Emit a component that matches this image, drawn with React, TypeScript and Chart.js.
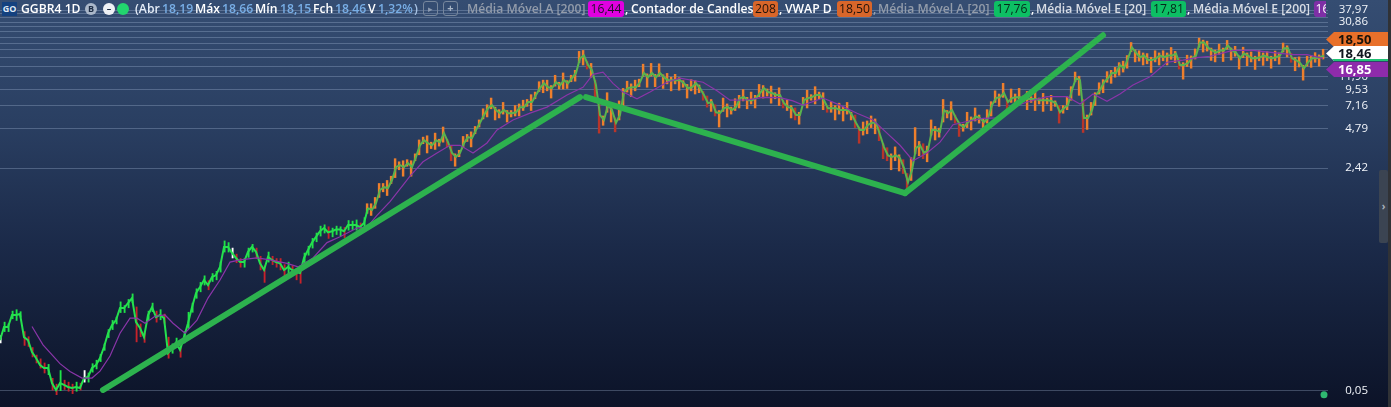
import { useEffect, useRef } from "react";
import { Chart, registerables } from "chart.js";

Chart.register(...registerables);

// daily bars, sampled along the chart
const closes = [
  0.1207, 0.1516, 0.1516, 0.187, 0.187, 0.19, 0.127, 0.1207, 0.0981, 0.0883, 0.0782, 0.0742, 0.0742, 0.0571, 0.0506, 0.0571,
  0.0552, 0.0533, 0.0524, 0.0533, 0.0524, 0.0623, 0.0634, 0.0742, 0.0782, 0.0883, 0.107, 0.136, 0.157, 0.171, 0.211, 0.211,
  0.23, 0.251, 0.165, 0.149, 0.127, 0.187, 0.214, 0.18, 0.187, 0.177, 0.0964, 0.105, 0.1155, 0.1015, 0.127, 0.162,
  0.214, 0.274, 0.304, 0.344, 0.315, 0.362, 0.375, 0.432, 0.612, 0.612, 0.552, 0.505, 0.47, 0.47, 0.562, 0.612,
  0.562, 0.46, 0.41, 0.514, 0.488, 0.47, 0.46, 0.41, 0.432, 0.41, 0.396, 0.389, 0.505, 0.581, 0.66, 0.73,
  0.805, 0.851, 0.79, 0.805, 0.83, 0.83, 0.805, 0.897, 0.897, 0.897, 0.866, 0.93, 1.206, 1.165, 1.315, 1.65,
  1.735, 1.708, 1.965, 2.46, 2.55, 2.46, 2.64, 2.46, 2.94, 3.6, 3.93, 3.73, 3.6, 3.93, 3.8, 4.45,
  3.8, 3.15, 2.94, 3.15, 3.73, 4.15, 4.08, 4.7, 5.33, 6.1, 6.88, 7.25, 6.65, 6.3, 6.65, 6.3,
  6.3, 6.4, 7, 7, 7.65, 7.65, 8.65, 9.75, 10.6, 9.9, 9.75, 10.8, 10.25, 11.2, 10.6, 11.6,
  12.7, 16.4, 17.2, 14.6, 13.3, 10.25, 6.1, 5.6, 7.25, 6.65, 5.33, 6.1, 9.1, 9.75, 9.9, 9.9,
  10.8, 12.7, 11.8, 12.7, 11.8, 12.7, 11.8, 11.2, 11.2, 11.2, 11.2, 10.6, 9.75, 9.9, 10.6, 9.75,
  8.65, 7.5, 7.65, 6.4, 6.3, 6.88, 7, 6.65, 7, 8.19, 8.33, 7.9, 7.9, 8.19, 8.95, 9.75,
  9.1, 8.95, 8.65, 8.65, 7.5, 7, 6.88, 6.1, 6.1, 7.9, 8.19, 8.33, 8.65, 8.65, 7.9, 6.88,
  6.88, 6.88, 6.65, 6.65, 6.65, 6.1, 5.33, 4.7, 4.7, 5.15, 5.33, 5.33, 4.33, 3.49, 3.02, 2.94,
  3.02, 2.88, 2.42, 1.89, 2.33, 3.43, 3.6, 3.15, 3.32, 4.7, 4.7, 4.55, 6.65, 6.3, 6.65, 5.78,
  5.15, 4.95, 5.4, 5.6, 5.95, 5.78, 5.4, 5.78, 7.25, 8.19, 8.33, 8.95, 7.65, 8.19, 8.33, 8.33,
  8.19, 8.05, 8.05, 8.05, 7.9, 7.9, 7.9, 7.75, 7.5, 6.4, 6.88, 7.25, 9.45, 11.6, 11.2, 5.78,
  5.78, 6.65, 8.65, 9.45, 10.8, 11.6, 12.7, 12.7, 14.6, 13.8, 16.4, 19.8, 18.1, 16.7, 17.2, 15.9,
  15.9, 16.4, 17.2, 16.7, 17.2, 17.2, 17.8, 14.6, 14.6, 15.1, 16.4, 17.2, 21.6, 21.6, 19.8, 18.8,
  18.1, 18.8, 18.8, 20.5, 18.8, 18.1, 16.4, 17.8, 17.2, 16.4, 16.4, 16.7, 17.2, 16.7, 16.4, 16.7,
  17.2, 19.5, 19.5, 16.4, 15.9, 15.1, 13.8, 15.3, 16.4, 16.4, 16.7, 17.2,
];
const highs = [
  0.13, 0.165, 0.16, 0.2, 0.205, 0.198, 0.14, 0.128, 0.106, 0.093, 0.087, 0.081, 0.079, 0.062, 0.056, 0.071,
  0.06, 0.058, 0.056, 0.058, 0.057, 0.071, 0.068, 0.08, 0.085, 0.094, 0.113, 0.145, 0.17, 0.18, 0.235, 0.22,
  0.245, 0.27, 0.215, 0.16, 0.14, 0.2, 0.23, 0.2, 0.205, 0.19, 0.127, 0.113, 0.125, 0.115, 0.14, 0.196,
  0.23, 0.295, 0.33, 0.37, 0.34, 0.385, 0.4, 0.47, 0.68, 0.66, 0.6, 0.54, 0.5, 0.5, 0.6, 0.64,
  0.6, 0.52, 0.44, 0.56, 0.52, 0.5, 0.5, 0.45, 0.47, 0.44, 0.42, 0.42, 0.55, 0.62, 0.71, 0.78,
  0.88, 0.9, 0.87, 0.85, 0.88, 0.87, 0.86, 0.97, 0.96, 0.98, 0.93, 1.02, 1.3, 1.3, 1.45, 1.85,
  1.85, 1.95, 2.1, 2.85, 2.7, 2.75, 2.8, 2.75, 3.1, 3.95, 4.15, 4.25, 3.8, 4.45, 4.0, 4.95,
  4.0, 3.6, 3.1, 3.3, 4.2, 4.35, 4.55, 5.0, 5.6, 6.8, 7.3, 8.2, 7.0, 6.7, 7.6, 6.6,
  6.6, 7.2, 7.4, 7.9, 8.0, 8.7, 9.1, 10.9, 11.2, 11.2, 10.2, 12.2, 10.8, 12.7, 11.1, 12.2,
  13.3, 18.5, 18.8, 15.6, 15.0, 11.2, 8.0, 6.0, 9.0, 7.1, 5.8, 7.8, 9.7, 11.0, 10.5, 11.2,
  11.4, 14.8, 12.5, 15.0, 12.4, 14.9, 12.3, 12.6, 11.8, 12.4, 11.7, 11.1, 10.4, 11.3, 11.1, 10.3,
  9.2, 8.5, 8.0, 7.3, 6.6, 8.2, 7.4, 7.0, 8.1, 8.6, 9.5, 8.3, 9.1, 8.6, 10.4, 10.2,
  9.6, 10.1, 9.0, 9.8, 7.9, 7.9, 7.2, 6.9, 6.4, 8.3, 9.4, 8.7, 10.0, 9.1, 9.0, 7.2,
  7.7, 7.2, 7.5, 7.0, 7.6, 6.4, 6.1, 4.95, 5.4, 5.5, 6.0, 5.7, 5.0, 3.7, 3.45, 3.1,
  3.5, 3.05, 2.8, 2.2, 2.9, 4.9, 3.85, 3.7, 3.55, 5.6, 5.0, 4.85, 8.0, 6.6, 7.7, 6.1,
  5.4, 5.2, 6.4, 5.9, 6.9, 6.1, 5.7, 6.7, 7.7, 9.3, 8.8, 10.6, 8.1, 9.6, 8.8, 9.7,
  8.5, 9.2, 8.4, 9.3, 8.2, 8.9, 8.2, 8.6, 7.8, 7.2, 7.2, 8.4, 10.0, 12.9, 12.0, 8.0,
  6.1, 7.6, 9.0, 10.7, 11.3, 13.0, 13.3, 14.0, 15.2, 15.6, 17.2, 21.6, 19.0, 18.7, 18.0, 17.8,
  16.7, 18.7, 18.0, 18.7, 18.0, 19.8, 18.5, 16.4, 15.2, 17.3, 17.1, 19.3, 23.3, 22.5, 22.1, 19.6,
  18.9, 21.0, 19.6, 22.4, 19.6, 20.2, 17.1, 19.9, 18.0, 18.3, 17.0, 18.7, 18.0, 18.4, 17.0, 18.6,
  18.0, 21.4, 20.4, 17.9, 16.6, 16.8, 14.5, 17.0, 17.2, 18.1, 17.4, 19.2,
];
const lows = [
  0.115, 0.14, 0.14, 0.175, 0.17, 0.18, 0.11, 0.108, 0.09, 0.081, 0.074, 0.068, 0.066, 0.0505, 0.0466, 0.05,
  0.051, 0.0495, 0.0475, 0.0495, 0.0505, 0.058, 0.058, 0.069, 0.073, 0.083, 0.101, 0.126, 0.145, 0.16, 0.195, 0.195,
  0.212, 0.232, 0.117, 0.128, 0.116, 0.17, 0.198, 0.165, 0.172, 0.162, 0.088, 0.096, 0.106, 0.0895, 0.115, 0.148,
  0.196, 0.25, 0.28, 0.315, 0.29, 0.335, 0.345, 0.395, 0.56, 0.56, 0.505, 0.465, 0.43, 0.43, 0.51, 0.56,
  0.5, 0.41, 0.33, 0.47, 0.45, 0.43, 0.41, 0.37, 0.39, 0.37, 0.345, 0.325, 0.46, 0.53, 0.6, 0.67,
  0.74, 0.78, 0.71, 0.73, 0.76, 0.74, 0.72, 0.82, 0.83, 0.82, 0.79, 0.85, 1.1, 1.06, 1.2, 1.45,
  1.6, 1.5, 1.85, 2.05, 2.35, 2.1, 2.5, 2.1, 2.75, 3.05, 3.7, 3.15, 3.4, 3.35, 3.55, 3.8,
  3.5, 2.75, 2.5, 2.95, 3.45, 3.85, 3.5, 4.4, 4.95, 5.7, 5.9, 6.8, 5.6, 5.8, 6.2, 5.4,
  5.9, 6.0, 6.0, 6.6, 7.1, 6.6, 8.1, 9.2, 9.0, 9.3, 8.2, 10.1, 9.6, 9.6, 9.7, 10.9,
  11.0, 15.2, 14.6, 13.6, 11.8, 7.6, 4.45, 5.1, 6.4, 5.4, 4.55, 5.6, 7.0, 9.1, 8.4, 9.3,
  10.0, 11.9, 9.9, 12.0, 10.0, 12.0, 9.7, 10.5, 9.3, 10.5, 9.4, 9.9, 8.2, 9.3, 8.8, 9.0,
  7.9, 7.0, 6.5, 6.0, 4.95, 6.5, 5.9, 6.2, 6.6, 6.9, 7.8, 6.8, 7.4, 6.9, 8.4, 8.2,
  8.5, 7.5, 8.1, 7.2, 6.9, 6.6, 5.8, 5.6, 5.2, 7.4, 6.9, 7.9, 7.4, 8.1, 6.7, 6.4,
  6.4, 5.6, 6.2, 5.5, 6.2, 5.6, 4.9, 3.73, 4.3, 4.4, 4.9, 4.4, 3.9, 2.85, 2.75, 2.35,
  2.75, 2.3, 2.2, 1.65, 1.95, 3.1, 3.0, 2.85, 2.7, 4.3, 3.95, 4.15, 5.4, 5.8, 5.6, 5.3,
  4.2, 4.6, 4.9, 4.7, 5.5, 5.3, 4.5, 5.3, 6.0, 7.6, 7.1, 8.3, 6.3, 7.6, 7.1, 7.8,
  7.7, 6.7, 7.6, 6.6, 7.4, 6.5, 7.4, 6.6, 7.1, 5.3, 6.3, 6.7, 7.9, 10.9, 8.6, 4.5,
  4.75, 6.1, 7.2, 8.8, 9.0, 10.8, 10.6, 11.8, 12.2, 12.9, 13.8, 18.4, 15.4, 15.6, 14.6, 14.9,
  12.8, 15.4, 14.6, 15.7, 14.6, 16.1, 15.2, 13.6, 11.4, 14.2, 13.8, 16.2, 19.9, 18.3, 18.6, 15.8,
  15.4, 17.6, 15.5, 19.2, 15.9, 17.0, 13.6, 16.6, 14.4, 15.4, 13.5, 15.7, 14.5, 15.7, 13.8, 15.7,
  14.8, 18.3, 16.8, 15.3, 13.2, 14.1, 11.2, 14.3, 14.0, 15.3, 14.3, 16.2,
];
const dojiBars = [0, 21, 58];

// moving average, read at its turning points
const maBars = [
  8, 10.75, 15, 17.5, 20.5, 23, 25, 27.5, 30, 32.5, 34.25, 36.25, 38.75, 41.25, 43.25, 46.25, 49.25, 52, 55, 57.5, 60, 64.25,
  67.5, 71.75, 74.5, 78.25, 81.75, 85, 89.25, 91.75, 94.25, 97.5, 100.75, 102.5, 105.75, 109.25, 112.5, 115, 118.25, 121.75, 124.25, 128.25,
  132.5, 136.75, 141.75, 145.75, 148.25, 150.75, 153.25, 155.75, 159.25, 162.5, 166.75, 170, 175.75, 179.25, 182.5, 186.75, 190.75, 195, 198.25, 200.75,
  205.75, 210, 214.25, 218.25, 221.75, 225, 228.25, 231.75, 235, 238.25, 241.75, 245.75, 249.25, 252.5, 256.75, 261.75, 266.75, 270, 273.25, 276.75,
  280, 283.25, 287.5, 291.75, 295.75, 299.25, 302.5, 308.25, 313.25, 318.25, 323.25, 326.75, 330.75,
];
const maValues = [
  0.153, 0.111, 0.08, 0.0698, 0.0623, 0.0623, 0.0703, 0.0914, 0.136, 0.177, 0.177, 0.162, 0.183, 0.187, 0.162, 0.136, 0.171, 0.251, 0.344, 0.47, 0.488, 0.505,
  0.488, 0.46, 0.432, 0.505, 0.66, 0.73, 0.851, 0.866, 1.06, 1.35, 1.8, 2.1, 2.7, 3.15, 3.6, 3.6, 3.15, 3.75, 4.7, 5.6,
  6.3, 7, 8.65, 9.9, 12.4, 12.9, 10.6, 9.1, 8.1, 9.1, 10.8, 11.6, 10.8, 9.3, 7.9, 7.95, 8.3, 8.25, 7.8, 7.25,
  8.2, 7.25, 6.3, 5.6, 4.45, 3.6, 2.75, 3.15, 3.8, 5.15, 5.45, 5.75, 5.8, 6.88, 7.65, 8.4, 8.4, 7.4, 8.8, 7.75,
  8.8, 10.3, 11.9, 15.3, 15.9, 16.6, 17, 18.8, 18.8, 18.1, 17.5, 17.5, 16.4,
];

const trendOneBars = [25.75, 145];
const trendOneValues = [0.0506, 8.33];
const trendTwoBars = [146.5, 226.25];
const trendTwoValues = [8.33, 1.565];
const trendThreeBars = [226.25, 275.75];
const trendThreeValues = [1.565, 24.5];

const lastDotBars = [331];
const lastDotValues = [0.0466];

const yTicks = [
  0.05, 2.42, 4.79, 7.16, 9.53, 11.9, 14.27, 16.64, 19.01, 21.38, 23.75, 26.12, 28.49, 30.86, 33.23, 35.6, 37.97,
];
const yTicksShown = [0.05, 2.42, 4.79, 7.16, 9.53, 11.9, 30.86, 37.97];

const firstOrangeBar = 92;

const toPoints = (xs: number[], ys: number[]) => xs.map((x, i) => ({ x, y: ys[i] }));

function wickColor(i: number) {
  if (dojiBars.includes(i)) return "#ffffff";
  const falling = i > 0 && closes[i] < closes[i - 1];
  if (i < firstOrangeBar) return falling ? "#c8222a" : "#1fe348";
  return i > 0 && closes[i] < closes[i - 1] * 0.9 ? "#b8352a" : "#ee7f2c";
}

const wickPoints = (from: number, to: number) =>
  closes.slice(from, to).map((_, k) => ({ x: from + k, y: [lows[from + k], highs[from + k]] }));

type HeaderItem = { left: number; text: string; color?: string; box?: string; width?: number; weight?: number };

const headerItems: HeaderItem[] = [
  { left: 21, text: "GGBR4 1D", color: "#ffffff" },
  { left: 135, text: "(Abr", color: "#e4ecf7" },
  { left: 162, text: "18,19", color: "#78aee6" },
  { left: 195, text: "Máx", color: "#ffffff" },
  { left: 222, text: "18,66", color: "#78aee6" },
  { left: 255, text: "Mín", color: "#ffffff" },
  { left: 280, text: "18,15", color: "#78aee6" },
  { left: 313, text: "Fch", color: "#ffffff" },
  { left: 335, text: "18,46", color: "#78aee6" },
  { left: 368, text: "V", color: "#ffffff" },
  { left: 378, text: "1,32%", color: "#78aee6" },
  { left: 414, text: ")", color: "#a9c4e6" },
  { left: 467, text: "Média Móvel A [200]", color: "#939caa" },
  { left: 588, width: 36, text: "16,44", color: "#20102a", box: "#e000e0", weight: 500 },
  { left: 625, text: ",", color: "#ffffff" },
  { left: 631, text: "Contador de Candles", color: "#ffffff" },
  { left: 753, width: 25, text: "208", color: "#20120a", box: "#d9662a", weight: 500 },
  { left: 779, text: ",", color: "#ffffff" },
  { left: 785, text: "VWAP D", color: "#ffffff" },
  { left: 837, width: 35, text: "18,50", color: "#20120a", box: "#d9662a", weight: 500 },
  { left: 873, text: ",", color: "#9aa3b0" },
  { left: 878, text: "Média Móvel A [20]", color: "#939caa" },
  { left: 994, width: 36, text: "17,76", color: "#06281a", box: "#0dbf64", weight: 500 },
  { left: 1031, text: ",", color: "#ffffff" },
  { left: 1036, text: "Média Móvel E [20]", color: "#d8dde5" },
  { left: 1151, width: 35, text: "17,81", color: "#06281a", box: "#0dbf64", weight: 500 },
  { left: 1187, text: ",", color: "#ffffff" },
  { left: 1193, text: "Média Móvel E [200]", color: "#d8dde5" },
  { left: 1314, width: 34, text: "16,85", color: "#ffffff", box: "#7e2fa6", weight: 500 },
];

const tagBase: React.CSSProperties = {
  position: "absolute",
  left: 1326,
  width: 62,
  height: 15,
  font: "bold 13px 'Open Sans', sans-serif",
  lineHeight: "15px",
  paddingLeft: 12,
  boxSizing: "border-box",
  clipPath: "polygon(8px 0, 100% 0, 100% 100%, 8px 100%, 0 50%)",
};

function Circle({ left, bg, children }: { left: number; bg: string; children?: React.ReactNode }) {
  return (
    <div
      style={{
        position: "absolute", left, top: 3, width: 12, height: 12, borderRadius: 6, background: bg,
        color: "#1c2c44", font: "bold 9px 'Open Sans', sans-serif", lineHeight: "12px", textAlign: "center",
      }}
    >
      {children}
    </div>
  );
}

export default function App() {
  const canvasRef = useRef<HTMLCanvasElement | null>(null);

  useEffect(() => {
    if (!canvasRef.current) return;
    const chart = new Chart(canvasRef.current, {
      type: "bar",
      data: {
        datasets: [
          {
            type: "bar",
            data: wickPoints(0, firstOrangeBar) as any,
            backgroundColor: (c: any) => wickColor(c.dataIndex),
            barThickness: 1.2,
            order: 6,
          },
          {
            type: "bar",
            data: wickPoints(firstOrangeBar, closes.length) as any,
            backgroundColor: (c: any) => wickColor(c.dataIndex + firstOrangeBar),
            barThickness: 1.8,
            order: 5,
          },
          {
            type: "line",
            data: toPoints(closes.map((_, i) => i), closes),
            pointRadius: 0,
            borderWidth: 2,
            borderColor: "#4fb84f",
            segment: { borderColor: (c: any) => (c.p0DataIndex < firstOrangeBar ? "#25e04e" : "#5ab34d") },
            order: 4,
          },
          {
            type: "line",
            data: toPoints(maBars, maValues),
            pointRadius: 0,
            borderWidth: 1.2,
            borderColor: "#8a35a8",
            order: 3,
          },
          ...[
            toPoints(trendOneBars, trendOneValues),
            toPoints(trendTwoBars, trendTwoValues),
            toPoints(trendThreeBars, trendThreeValues),
          ].map((data) => ({
            type: "line" as const,
            data,
            pointRadius: 0,
            borderWidth: 6,
            borderColor: "#2db24e",
            borderCapStyle: "round" as const,
            order: 1,
          })),
          {
            type: "scatter",
            data: toPoints(lastDotBars, lastDotValues),
            pointRadius: 3.5,
            backgroundColor: "#2fb870",
            borderWidth: 0,
            order: 2,
          },
        ] as any,
      },
      options: {
        animation: false,
        responsive: false,
        devicePixelRatio: 1,
        layout: { padding: { right: 23 }, autoPadding: false },
        plugins: { legend: { display: false }, tooltip: { enabled: false } },
        scales: {
          x: { type: "linear", min: 0, max: 332, offset: false, display: false },
          y: {
            type: "logarithmic",
            position: "right",
            min: 0.0376,
            max: 45.3,
            afterBuildTicks: (s: any) => {
              s.ticks = yTicks.map((value) => ({ value }));
            },
            afterFit: (s: any) => {
              s.width = 40;
              s.paddingTop = 0;
              s.paddingBottom = 0;
            },
            grid: { color: "rgba(175,195,225,0.3)", lineWidth: 1, drawTicks: false },
            border: { display: false },
            ticks: {
              autoSkip: false,
              crossAlign: "far",
              color: "#f2f5fa",
              font: { family: "'Open Sans', sans-serif", size: 11.5 },
              callback: (v: any) =>
                yTicksShown.includes(Number(v)) ? Number(v).toFixed(2).replace(".", ",") : "",
            },
          },
        },
      } as any,
    });
    return () => chart.destroy();
  }, []);

  return (
    <div
      style={{
        position: "fixed", left: 0, top: 0, width: 1391, height: 407, overflow: "hidden",
        background: "linear-gradient(180deg, #354d72 0%, #2a3f62 30%, #1b2a49 60%, #0c1328 100%)",
      }}
    >
      <canvas ref={canvasRef} width={1391} height={407} style={{ position: "absolute", left: 0, top: 0 }} />

      {/* legend row */}
      <div style={{ position: "absolute", left: 0, top: 0, width: 1326, height: 18, overflow: "hidden" }}>
        <div style={{ position: "absolute", left: 2, top: 2, width: 15, height: 14, background: "#14417f", color: "#dfe8f5", font: "bold 9px 'Open Sans', sans-serif", lineHeight: "14px", textAlign: "center" }}>
          GO
        </div>
        <Circle left={85} bg="#aab7c9">B</Circle>
        <Circle left={103} bg="#eef1f5">–</Circle>
        <Circle left={117} bg="#22d56e" />
        <div style={{ position: "absolute", left: 423, top: 1, width: 15, height: 15, border: "1px solid #77879d", borderRadius: 3, boxSizing: "border-box", color: "#8d9bb0", font: "9px 'Open Sans', sans-serif", textAlign: "center", lineHeight: "13px" }}>▸</div>
        <div style={{ position: "absolute", left: 443, top: 1, width: 15, height: 15, border: "1px solid #77879d", borderRadius: 3, boxSizing: "border-box", color: "#a8b5c6", font: "bold 11px 'Open Sans', sans-serif", textAlign: "center", lineHeight: "12px" }}>+</div>
        {headerItems.map((it, i) => (
          <span
            key={i}
            style={{
              position: "absolute", left: it.left, top: 1, height: 16, width: it.width, whiteSpace: "nowrap",
              color: it.color, background: it.box, borderRadius: it.box ? 3 : 0, textAlign: it.box ? "center" : "left",
              font: `${it.weight ?? 600} 12.2px 'Open Sans', sans-serif`, lineHeight: "16px",
            }}
          >
            {it.text}
          </span>
        ))}
      </div>

      {/* price tags on the axis */}
      <div style={{ ...tagBase, top: 32, background: "#e8702a", color: "#1b1208" }}>18,50</div>
      <div style={{ ...tagBase, top: 46, background: "#ffffff", color: "#10151f", borderBottom: "2px solid #22c275", height: 15 }}>18,46</div>
      <div style={{ ...tagBase, top: 62, background: "#8e2bab", color: "#ffffff" }}>16,85</div>

      {/* side handle and window edge */}
      <div style={{ position: "absolute", left: 1379, top: 170, width: 9, height: 73, background: "#3b4452", borderRadius: 2, color: "#aab2bd", font: "bold 10px 'Open Sans', sans-serif", lineHeight: "73px", textAlign: "center" }}>›</div>
      <div style={{ position: "absolute", left: 1388, top: 0, width: 3, height: 407, background: "#303236" }} />
    </div>
  );
}
